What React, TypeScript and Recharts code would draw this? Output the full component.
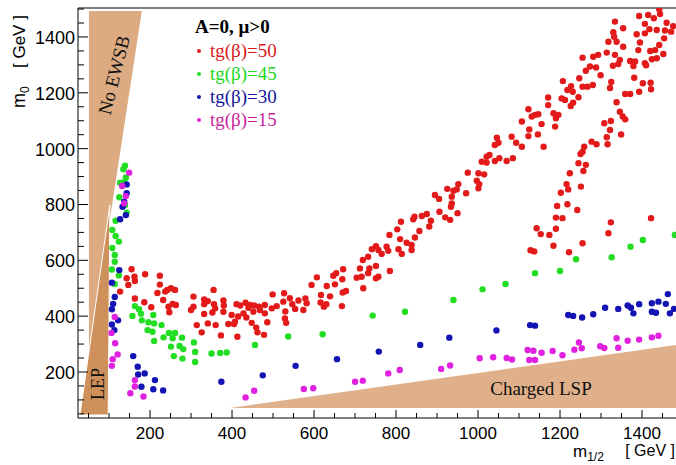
import React from 'react';
import { ScatterChart, Scatter, XAxis, YAxis, ReferenceLine } from 'recharts';

// Axis ranges (GeV)
const X_DOMAIN: [number, number] = [24.3, 1482.9];
const Y_DOMAIN: [number, number] = [35.2, 1503.8];

const xTicks = [50, 100, 150, 200, 250, 300, 350, 400, 450, 500, 550, 600, 650, 700, 750, 800, 850, 900, 950, 1000, 1050, 1100, 1150, 1200, 1250, 1300, 1350, 1400, 1450];
const yTicks = [50, 100, 150, 200, 250, 300, 350, 400, 450, 500, 550, 600, 650, 700, 750, 800, 850, 900, 950, 1000, 1050, 1100, 1150, 1200, 1250, 1300, 1350, 1400, 1450, 1500];
const xTickLabels = [200, 400, 600, 800, 1000, 1200, 1400];
const yTickLabels = [200, 400, 600, 800, 1000, 1200, 1400];

// Excluded regions: [m1/2, m0] vertices
const noEwsbRegion: [number, number][] = [[51, 1493], [180, 1493], [102, 745], [98, 100], [51, 100]];
const lepRegion: [number, number][] = [[102, 798], [98, 46], [29, 46]];
const chargedLspRegion: [number, number][] = [[395, 71], [1483, 297], [1483, 71]];

// Allowed points: [m1/2, m0] in GeV
const tanBeta50: [number, number][] = [
  [155, 568], [188, 550], [224, 545], [143, 536], [162, 541], [163, 526], [147, 512], [127, 488], [224, 513], [163, 463],
  [186, 450], [203, 432], [218, 483], [242, 494], [251, 500], [261, 494], [232, 458], [255, 444], [245, 434], [263, 440],
  [247, 414], [237, 488], [306, 470], [332, 460], [341, 454], [355, 494], [300, 422], [306, 434], [332, 443], [356, 443],
  [380, 438], [379, 456], [359, 428], [352, 413], [332, 408], [379, 416], [411, 443], [420, 438], [433, 448], [444, 440],
  [440, 430], [454, 438], [466, 434], [480, 440], [497, 428], [509, 436], [499, 478], [527, 482], [525, 452], [541, 464],
  [547, 443], [562, 456], [579, 463], [582, 446], [554, 426], [574, 422], [530, 417], [480, 410], [452, 416], [468, 422],
  [428, 410], [399, 404], [415, 399], [435, 395], [407, 380], [391, 372], [448, 376], [459, 359], [486, 378], [529, 392],
  [532, 376], [314, 368], [341, 374], [360, 368], [326, 342], [373, 331], [413, 326], [462, 342], [478, 333], [405, 372],
  [594, 512], [607, 539], [631, 508], [647, 545], [654, 554], [671, 568], [669, 532], [651, 514], [617, 476], [639, 471],
  [616, 449], [630, 443], [624, 434], [670, 485], [678, 490], [720, 500], [668, 436], [704, 538], [712, 571], [719, 601],
  [732, 613], [751, 651], [741, 640], [777, 649], [757, 637], [781, 634], [806, 640], [838, 637], [814, 623], [765, 623],
  [751, 580], [735, 571], [785, 562], [732, 554], [757, 541], [751, 536], [716, 541], [784, 691], [810, 676], [846, 682],
  [826, 663], [838, 655], [812, 738], [803, 711], [845, 756], [863, 759], [842, 747], [875, 766], [885, 742], [881, 721],
  [857, 705], [895, 834], [905, 820], [936, 828], [936, 804], [934, 792], [906, 774], [950, 769], [920, 754], [932, 745],
  [925, 856], [940, 849], [948, 854], [952, 873], [971, 840], [975, 914], [1001, 912], [1015, 908], [997, 885], [1003, 873],
  [1001, 858], [1009, 953], [1021, 950], [1041, 956], [1070, 956], [1021, 971], [1028, 977], [1052, 966], [1085, 966], [1046, 1039],
  [1050, 1021], [1041, 1013], [1082, 1043], [1093, 1021], [1107, 1007], [1160, 1007], [1123, 1141], [1107, 1097], [1131, 1115], [1139, 1121],
  [1147, 1123], [1125, 1069], [1146, 1051], [1123, 1045], [1155, 1088], [1442, 1499], [1444, 1482], [1393, 1475], [1415, 1479], [1429, 1467],
  [1460, 1451], [1476, 1439], [1334, 1455], [1407, 1447], [1418, 1428], [1436, 1425], [1456, 1423], [1471, 1419], [1354, 1431], [1330, 1417],
  [1387, 1410], [1407, 1413], [1332, 1401], [1454, 1395], [1318, 1383], [1338, 1383], [1395, 1380], [1354, 1365], [1442, 1371], [1391, 1353],
  [1420, 1350], [1432, 1353], [1314, 1344], [1334, 1336], [1452, 1339], [1255, 1326], [1281, 1329], [1293, 1336], [1436, 1324], [1424, 1320],
  [1346, 1318], [1371, 1314], [1383, 1312], [1342, 1303], [1329, 1297], [1407, 1306], [1410, 1299], [1379, 1296], [1273, 1294], [1288, 1291],
  [1263, 1279], [1299, 1263], [1247, 1252], [1381, 1254], [1207, 1242], [1325, 1239], [1227, 1224], [1255, 1222], [1267, 1222], [1280, 1228],
  [1322, 1217], [1402, 1234], [1421, 1236], [1422, 1213], [1218, 1210], [1231, 1204], [1359, 1196], [1371, 1196], [1393, 1204], [1245, 1184],
  [1171, 1183], [1204, 1180], [1212, 1174], [1338, 1166], [1232, 1165], [1226, 1153], [1171, 1156], [1184, 1127], [1196, 1121], [1190, 1109],
  [1346, 1132], [1353, 1115], [1359, 1105], [1188, 1079], [1324, 1099], [1308, 1091], [1322, 1067], [1314, 1041], [1349, 1051], [1316, 1016],
  [1277, 1025], [1289, 1016], [1259, 1007], [1255, 989], [1250, 981], [1245, 948], [1263, 942], [1224, 912], [1257, 920], [1216, 873],
  [1220, 854], [1202, 842], [1251, 864], [1193, 795], [1218, 801], [1242, 780], [1190, 753], [1206, 751], [1143, 715], [1190, 713],
  [1153, 694], [1174, 691], [1184, 652], [1255, 661], [1128, 636], [1137, 632], [1222, 629], [1324, 736], [1318, 697], [1422, 751],
];

const tanBeta45: [number, number][] = [
  [139, 939], [135, 926], [141, 897], [127, 878], [137, 880], [125, 826], [139, 798], [143, 771], [116, 742],
  [108, 709], [116, 687], [124, 667], [108, 644], [114, 619], [114, 595], [107, 567], [124, 546], [114, 515],
  [163, 436], [173, 425], [157, 401], [178, 409], [208, 404], [180, 385], [196, 378], [210, 374], [228, 368], [194, 350],
  [206, 344], [210, 311], [233, 324], [246, 340], [261, 340], [255, 321], [278, 323], [251, 291], [272, 293], [281, 282],
  [258, 257], [279, 248], [307, 306], [310, 272], [310, 236], [350, 266], [371, 268], [387, 270], [456, 297], [537, 327],
  [621, 335], [743, 402], [822, 416], [940, 458], [1011, 496], [1067, 515], [1139, 554], [1200, 562], [1239, 604], [1326, 611],
  [1372, 649], [1402, 673], [1480, 691],
];

const tanBeta30: [number, number][] = [
  [143, 872], [143, 840], [137, 810], [133, 792], [141, 762], [127, 747],
  [125, 565], [107, 520], [114, 469], [110, 444], [107, 425], [107, 370], [122, 385], [113, 350],
  [159, 257], [170, 219], [171, 191], [187, 195], [179, 147], [212, 171], [232, 134], [208, 138],
  [374, 165], [475, 188], [555, 222], [656, 246], [758, 273], [859, 297], [930, 323], [1045, 349],
  [1127, 368], [1139, 366], [1220, 404], [1232, 401], [1254, 395], [1281, 407], [1310, 430], [1342, 426], [1365, 438], [1373, 430],
  [1379, 410], [1393, 443], [1424, 446], [1424, 416], [1434, 412], [1440, 452], [1458, 444], [1463, 479], [1468, 410], [1478, 426],
];

const tanBeta15: [number, number][] = [
  [149, 914], [132, 866], [137, 804], [141, 830],
  [114, 397], [106, 340], [115, 303], [121, 263], [109, 246], [107, 222],
  [163, 171], [163, 148], [152, 124], [184, 112],
  [433, 109], [454, 133], [575, 139], [598, 142], [700, 165], [719, 169], [781, 195], [809, 207], [910, 211], [932, 223],
  [1004, 249], [1037, 253], [1070, 250], [1083, 245], [1121, 279], [1135, 276], [1125, 243], [1139, 243], [1155, 269], [1182, 275],
  [1206, 260], [1235, 280], [1246, 306], [1253, 285], [1298, 292], [1308, 286], [1338, 321], [1342, 287], [1365, 312], [1393, 316],
  [1424, 324], [1440, 330],
];

const seriesLabels = ['tg(\u03b2)=50', 'tg(\u03b2)=45', 'tg(\u03b2)=30', 'tg(\u03b2)=15'];
const seriesColors = ['#e21a1a', '#22dd22', '#1414b4', '#e022e0'];
const legendTextColors = ['#d81818', '#22d822', '#141496', '#c81e9c'];

const toPoints = (pairs: [number, number][]) => pairs.map(([x, y]) => ({ x, y }));

const SANS = '"Liberation Sans", Arial, sans-serif';
const SERIF = '"Liberation Serif", "Times New Roman", serif';

const XTick = (props: any) => {
  const { x, y, payload } = props;
  const v = payload.value as number;
  const major = xTickLabels.includes(v);
  return (
    <g>
      <line x1={x} x2={x} y1={y} y2={y - (major ? 8 : 5)} stroke="#000" strokeWidth={1} />
      {major && (
        <text x={x} y={y + 21} textAnchor="middle" fontFamily={SANS} fontSize={17} fill="#000">
          {v}
        </text>
      )}
    </g>
  );
};

const YTick = (props: any) => {
  const { x, y, payload } = props;
  const v = payload.value as number;
  const major = yTickLabels.includes(v);
  return (
    <g>
      <line x1={x} x2={x + (major ? 10 : 6)} y1={y} y2={y} stroke="#000" strokeWidth={1} />
      {major && (
        <text x={x - 3} y={y + 7} textAnchor="end" fontFamily={SANS} fontSize={18} fill="#000">
          {v}
        </text>
      )}
    </g>
  );
};

const dotShape = (color: string) => (p: any) => <circle cx={p.cx} cy={p.cy} r={3.2} fill={color} />;
const hiddenShape = () => <g />;

// Filled region drawn from the scaled vertices, with its caption on top
const regionShape = (fill: string, stroke: string, caption: React.ReactNode) => (p: any) => (
  <g>
    <polygon
      points={(p.points || []).map((q: any) => `${q.x},${q.y}`).join(' ')}
      fill={fill}
      stroke={stroke}
      strokeWidth={1}
    />
    {caption}
  </g>
);

const noEwsbCaption = (
  <text transform="translate(114,75) rotate(-76)" textAnchor="middle" dominantBaseline="central" fontFamily={SERIF} fontSize={19} fill="#111">
    No EWSB
  </text>
);
const lepCaption = (
  <text transform="translate(98,384) rotate(-90)" textAnchor="middle" dominantBaseline="central" fontFamily={SERIF} fontSize={18} fill="#111">
    LEP
  </text>
);
const lspCaption = (
  <text x={541} y={395} textAnchor="middle" fontFamily={SERIF} fontSize={19} fill="#111">
    Charged LSP
  </text>
);

export default function App() {
  const legendDotY = [51, 74, 97, 120];
  const legendTextY = [57, 80, 103, 126];
  const seriesData = [tanBeta50, tanBeta45, tanBeta30, tanBeta15];
  return (
    <div style={{ position: 'absolute', left: 0, top: 0, background: '#fff' }}>
      <ScatterChart width={676} height={465} margin={{ top: 8, right: 0, bottom: 0, left: 0 }}>
        <XAxis
          type="number"
          dataKey="x"
          domain={X_DOMAIN}
          ticks={xTicks}
          interval={0}
          allowDataOverflow
          height={47}
          tickSize={0}
          tickMargin={0}
          tickLine={false}
          tick={<XTick />}
          axisLine={{ stroke: '#000', strokeWidth: 1 }}
        />
        <YAxis
          type="number"
          dataKey="y"
          domain={Y_DOMAIN}
          ticks={yTicks}
          interval={0}
          allowDataOverflow
          width={78}
          tickSize={0}
          tickMargin={0}
          tickLine={false}
          tick={<YTick />}
          axisLine={{ stroke: '#000', strokeWidth: 1 }}
        />
        <ReferenceLine y={Y_DOMAIN[1]} stroke="#000" strokeWidth={1} ifOverflow="extendDomain" />

        <Scatter data={toPoints(noEwsbRegion)} line={regionShape('#dcab82', 'none', noEwsbCaption)} shape={hiddenShape} isAnimationActive={false} />
        <Scatter data={toPoints(lepRegion)} line={regionShape('#cf915c', '#ffffff', lepCaption)} shape={hiddenShape} isAnimationActive={false} />
        <Scatter data={toPoints(chargedLspRegion)} line={regionShape('#dfb089', 'none', lspCaption)} shape={hiddenShape} isAnimationActive={false} />

        {seriesData.map((d, i) => (
          <Scatter
            key={seriesLabels[i]}
            name={seriesLabels[i]}
            data={toPoints(d)}
            fill={seriesColors[i]}
            shape={dotShape(seriesColors[i])}
            isAnimationActive={false}
          />
        ))}

        {/* legend */}
        <text x={195} y={33} fontFamily={SERIF} fontSize={19} fontWeight="bold" fill="#000">
          A=0, {'\u03bc'}&gt;0
        </text>
        {seriesLabels.map((label, i) => (
          <g key={label}>
            <circle cx={199} cy={legendDotY[i]} r={2} fill={seriesColors[i]} />
            <text x={210} y={legendTextY[i]} fontFamily={SERIF} fontSize={19} fill={legendTextColors[i]}>
              {label}
            </text>
          </g>
        ))}

        {/* axis titles */}
        <text transform="translate(25,108) rotate(-90)" fontFamily={SANS} fontSize={18} fill="#000">
          m<tspan dy={4} fontSize={12}>0</tspan>
        </text>
        <text transform="translate(25,68) rotate(-90)" fontFamily={SANS} fontSize={17} fill="#000">
          [ GeV ]
        </text>
        <text x={573} y={457} fontFamily={SANS} fontSize={17} fill="#000">
          m<tspan dy={4} fontSize={12}>1/2</tspan>
        </text>
        <text x={675} y={456} textAnchor="end" fontFamily={SANS} fontSize={16} fill="#000">
          [ GeV ]
        </text>
      </ScatterChart>
    </div>
  );
}
